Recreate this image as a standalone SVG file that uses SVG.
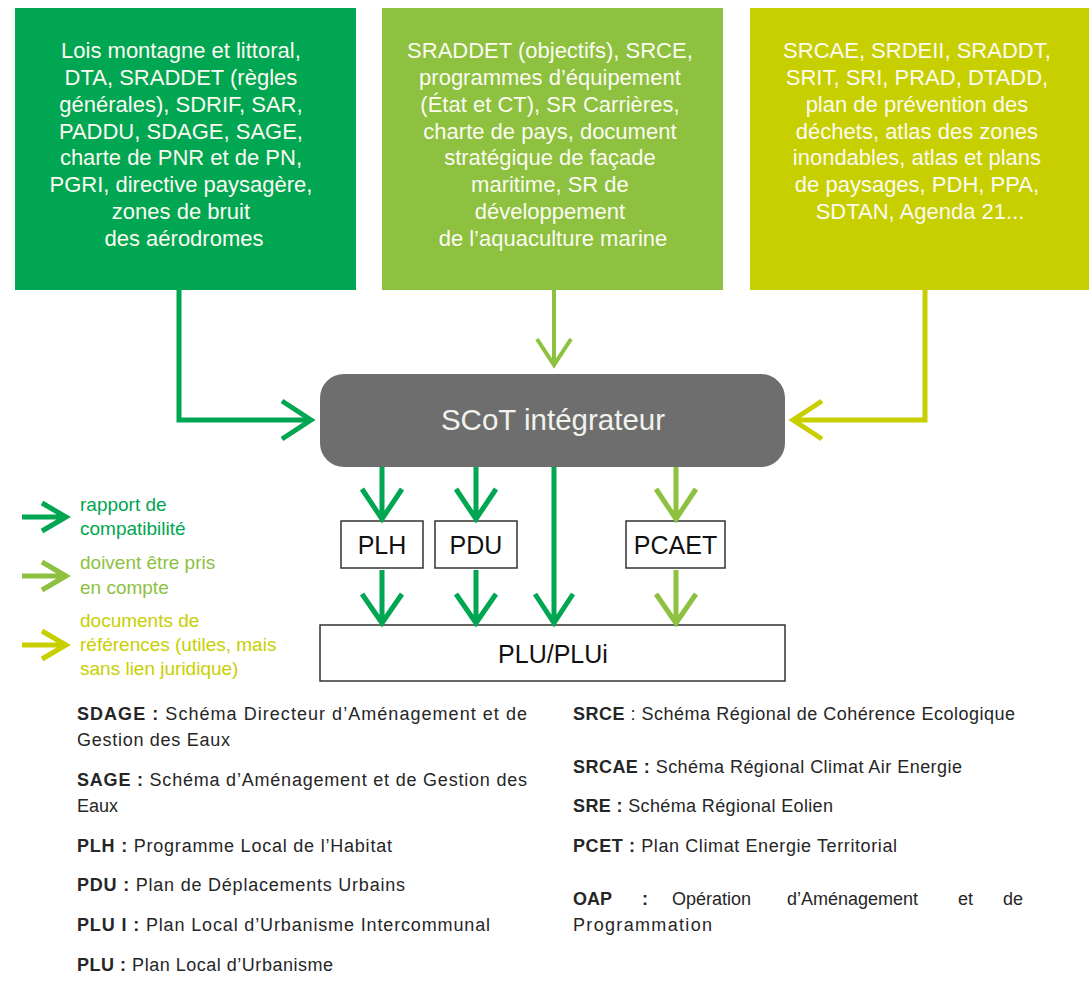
<svg xmlns="http://www.w3.org/2000/svg" width="1090" height="982" viewBox="0 0 1090 982">
<style>
.bt{font-family:"Liberation Sans",Arial,sans-serif;font-size:22px;fill:#fbfbf2;text-anchor:middle}
.nb{fill:#fff;stroke:#333;stroke-width:1.5}
.nt{font-family:"Liberation Sans",Arial,sans-serif;font-size:25px;fill:#111;text-anchor:middle}
.c{fill:none;stroke-linecap:butt;stroke-linejoin:miter}
.g1{stroke:#00a651}
.g2{stroke:#8dc13f}
.g3{stroke:#c8cf00}
.lg{font-family:"Liberation Sans",Arial,sans-serif;font-size:19px}
.df{font-family:"Liberation Sans",Arial,sans-serif;font-size:18px;fill:#262626}
.b{font-weight:bold}
</style>
<rect width="1090" height="982" fill="#fff"/>

<g id="box-compat">
<rect x="15" y="8" width="341" height="282" fill="#00a651"/>
<text class="bt">
<tspan x="184" y="58">Lois montagne et littoral,</tspan>
<tspan x="184" y="85">DTA, SRADDET (règles</tspan>
<tspan x="184" y="112">générales), SDRIF, SAR,</tspan>
<tspan x="184" y="139">PADDU, SDAGE, SAGE,</tspan>
<tspan x="184" y="165">charte de PNR et de PN,</tspan>
<tspan x="184" y="192">PGRI, directive paysagère,</tspan>
<tspan x="184" y="219">zones de bruit</tspan>
<tspan x="184" y="246">des aérodromes</tspan>
</text>
</g>

<g id="box-prise-en-compte">
<rect x="382" y="8" width="341" height="282" fill="#8dc13f"/>
<text class="bt">
<tspan x="553" y="58">SRADDET (objectifs), SRCE,</tspan>
<tspan x="553" y="85">programmes d’équipement</tspan>
<tspan x="553" y="112">(État et CT), SR Carrières,</tspan>
<tspan x="553" y="139">charte de pays, document</tspan>
<tspan x="553" y="165">stratégique de façade</tspan>
<tspan x="553" y="192">maritime, SR de</tspan>
<tspan x="553" y="219">développement</tspan>
<tspan x="553" y="246">de l’aquaculture marine</tspan>
</text>
</g>

<g id="box-references">
<rect x="750" y="8" width="339" height="282" fill="#c8cf00"/>
<text class="bt">
<tspan x="920" y="58">SRCAE, SRDEII, SRADDT,</tspan>
<tspan x="920" y="85">SRIT, SRI, PRAD, DTADD,</tspan>
<tspan x="920" y="112">plan de prévention des</tspan>
<tspan x="920" y="139">déchets, atlas des zones</tspan>
<tspan x="920" y="165">inondables, atlas et plans</tspan>
<tspan x="920" y="192">de paysages, PDH, PPA,</tspan>
<tspan x="920" y="219">SDTAN, Agenda 21...</tspan>
</text>
</g>

<g id="scot">
<rect x="320" y="374" width="465" height="93" rx="24" ry="24" fill="#6e6e6e"/>
<text x="553" y="430" font-family="'Liberation Sans',Arial,sans-serif" font-size="29.5" fill="#f2f2ec" text-anchor="middle">SCoT intégrateur</text>
</g>

<g id="plh">
<rect class="nb" x="341" y="521" width="82" height="47"/>
<text class="nt" x="382" y="554">PLH</text>
</g>
<g id="pdu">
<rect class="nb" x="435" y="521" width="82" height="47"/>
<text class="nt" x="476" y="554">PDU</text>
</g>
<g id="pcaet">
<rect class="nb" x="626" y="521" width="99" height="47"/>
<text class="nt" x="675.5" y="554">PCAET</text>
</g>
<g id="plu">
<rect class="nb" x="320" y="625" width="465" height="56"/>
<text class="nt" x="553" y="663">PLU/PLUi</text>
</g>

<g id="connectors">
<path class="c g1" stroke-width="5" d="M179 290 V420 H310"/>
<path class="c g1" stroke-width="5" d="M282 401 L311 420 L282 439"/>
<path class="c g3" stroke-width="5" d="M925 290 V420 H794"/>
<path class="c g3" stroke-width="5" d="M822 401 L793 420 L822 439"/>
<path class="c g2" stroke-width="4" d="M554 290 V364"/>
<path class="c g2" stroke-width="4" d="M537 339 L554 365 L571 339"/>
<path class="c g1" stroke-width="5" d="M382 467 V518 M362 489 L382 519 L402 489"/>
<path class="c g1" stroke-width="5" d="M476 467 V518 M456 489 L476 519 L496 489"/>
<path class="c g2" stroke-width="5" d="M676 467 V518 M656 489 L676 519 L696 489"/>
<path class="c g1" stroke-width="5" d="M554 467 V622 M535 594 L554 623 L573 594"/>
<path class="c g1" stroke-width="5" d="M382 570 V622 M362 594 L382 623 L402 594"/>
<path class="c g1" stroke-width="5" d="M476 570 V622 M456 594 L476 623 L496 594"/>
<path class="c g2" stroke-width="5" d="M676 570 V622 M656 594 L676 623 L696 594"/>
</g>

<g id="legend">
<path class="c g1" stroke-width="5" d="M22 517 H66 M42 503 L66 517 L42 531"/>
<text class="lg" fill="#00a651"><tspan x="80" y="511">rapport de</tspan><tspan x="80" y="535">compatibilité</tspan></text>
<path class="c g2" stroke-width="5" d="M22 576 H66 M42 562 L66 576 L42 590"/>
<text class="lg" fill="#8dc13f"><tspan x="80" y="569">doivent être pris</tspan><tspan x="80" y="594">en compte</tspan></text>
<path class="c g3" stroke-width="5" d="M22 645 H66 M42 631 L66 645 L42 659"/>
<text class="lg" fill="#c8cf00"><tspan x="80" y="627">documents de</tspan><tspan x="80" y="651">références (utiles, mais</tspan><tspan x="80" y="675">sans lien juridique)</tspan></text>
</g>

<g id="definitions">
<text class="df" x="77" y="720" textLength="450" lengthAdjust="spacing"><tspan class="b">SDAGE :</tspan> Schéma Directeur d’Aménagement et de</text>
<text class="df" x="77" y="746" textLength="153" lengthAdjust="spacing">Gestion des Eaux</text>
<text class="df" x="77" y="786" textLength="450" lengthAdjust="spacing"><tspan class="b">SAGE :</tspan> Schéma d’Aménagement et de Gestion des</text>
<text class="df" x="77" y="812">Eaux</text>
<text class="df" x="77" y="852" textLength="315" lengthAdjust="spacing"><tspan class="b">PLH :</tspan> Programme Local de l’Habitat</text>
<text class="df" x="77" y="891" textLength="328" lengthAdjust="spacing"><tspan class="b">PDU :</tspan> Plan de Déplacements Urbains</text>
<text class="df" x="77" y="931" textLength="413" lengthAdjust="spacing"><tspan class="b">PLU I :</tspan> Plan Local d’Urbanisme Intercommunal</text>
<text class="df" x="77" y="971" textLength="256" lengthAdjust="spacing"><tspan class="b">PLU :</tspan> Plan Local d’Urbanisme</text>

<text class="df" x="573" y="720" textLength="442" lengthAdjust="spacing"><tspan class="b">SRCE</tspan> : Schéma Régional de Cohérence Ecologique</text>
<text class="df" x="573" y="773" textLength="389" lengthAdjust="spacing"><tspan class="b">SRCAE :</tspan> Schéma Régional Climat Air Energie</text>
<text class="df" x="573" y="812" textLength="260" lengthAdjust="spacing"><tspan class="b">SRE :</tspan> Schéma Régional Eolien</text>
<text class="df" x="573" y="852" textLength="324" lengthAdjust="spacing"><tspan class="b">PCET :</tspan> Plan Climat Energie Territorial</text>
<text class="df" y="905"><tspan class="b" x="573">OAP</tspan><tspan class="b" x="642">:</tspan><tspan x="672">Opération</tspan><tspan x="787">d’Aménagement</tspan><tspan x="958">et</tspan><tspan x="1003">de</tspan></text>
<text class="df" x="573" y="931" textLength="139" lengthAdjust="spacing">Programmation</text>
</g>
</svg>
